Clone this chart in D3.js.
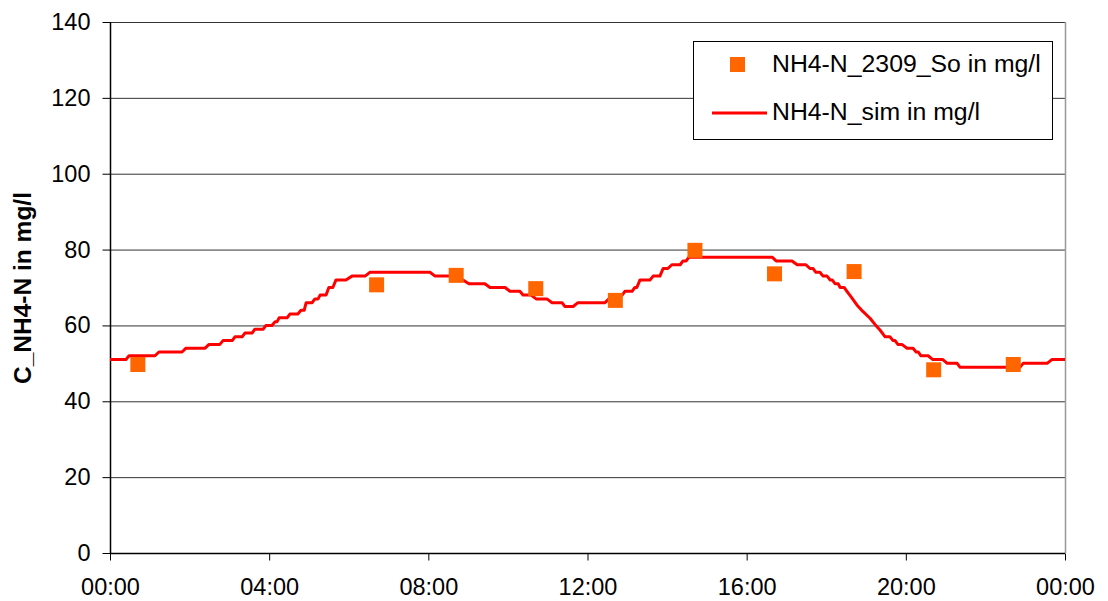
<!DOCTYPE html>
<html>
<head>
<meta charset="utf-8">
<script src="https://cdn.jsdelivr.net/npm/d3@7"></script>
<style>
  html, body { margin: 0; padding: 0; background: #fff; }
  svg { display: block; }
  text { font-family: "Liberation Sans", Arial, sans-serif; fill: #000; }
</style>
</head>
<body>
<svg id="chart" width="1108" height="601"></svg>
<script>
// Measured NH4-N samples (hour of day, mg/l)
const obsHours  = [0.7, 6.7, 8.7, 10.7, 12.7, 14.7, 16.7, 18.7, 20.7, 22.7];
const obsValues = [49.7, 70.7, 73.2, 69.7, 66.6, 79.8, 73.6, 74.2, 48.3, 49.7];

// Simulated NH4-N: each entry is a level held from simFrom to simTo (hours)
const simFrom = [0.00, 0.48, 1.23, 1.91, 2.49, 2.84, 3.14, 3.39, 3.64, 3.92, 4.15, 4.25, 4.52, 4.80, 4.93,
                 5.15, 5.28, 5.50, 5.68, 6.08, 6.53, 8.17, 8.62, 9.02, 9.55, 10.05, 10.38, 10.71, 11.11,
                 11.43, 11.76, 12.54, 12.74, 12.94, 13.19, 13.32, 13.65, 13.90, 14.12, 14.40, 14.55,
                 16.74, 17.27, 17.59, 17.74, 17.92, 18.10, 18.22, 18.35, 18.52, 18.62, 18.77, 18.92,
                 19.10, 19.23, 19.35, 19.48, 19.68, 19.80, 20.03, 20.26, 20.38, 20.68, 21.04, 21.36,
                 22.95, 23.67];
const simTo   = [0.40, 1.13, 1.81, 2.39, 2.76, 3.07, 3.32, 3.57, 3.85, 4.07, 4.20, 4.45, 4.72, 4.88, 5.08,
                 5.23, 5.43, 5.60, 5.93, 6.41, 8.04, 8.54, 8.87, 9.42, 9.93, 10.30, 10.58, 10.98, 11.36,
                 11.64, 12.44, 12.67, 12.87, 13.12, 13.24, 13.57, 13.82, 14.02, 14.33, 14.48, 16.64,
                 17.14, 17.49, 17.67, 17.84, 18.02, 18.15, 18.30, 18.45, 18.52, 18.62, 18.77, 18.92,
                 19.10, 19.23, 19.35, 19.60, 19.73, 19.90, 20.18, 20.31, 20.56, 20.93, 21.29, 22.87,
                 23.55, 24.00];
const simLevel = [51, 52, 53, 54, 55, 56, 57, 58, 59, 60, 61, 62, 63, 64, 66,
                  67, 68, 70, 72, 73, 74, 73, 72, 71, 70, 69, 68, 67, 66,
                  65, 66, 67, 68, 69, 70, 72, 73, 75, 76, 77, 78,
                  77, 76, 75, 74, 73, 72, 71, 70, 69, 67.6, 65.4, 63.7,
                  61.9, 60.2, 58.8, 57, 56, 55, 54, 53, 52, 51, 50, 49,
                  50, 51];

const xTicks = [0, 4, 8, 12, 16, 20, 24];
const yTicks = [0, 20, 40, 60, 80, 100, 120, 140];

const legendLabels = ["NH4-N_2309_So in mg/l", "NH4-N_sim in mg/l"];
const yTitle = "C_NH4-N in mg/l";

const svg = d3.select("#chart");
const plotLeft = 110, plotRight = 1065, plotTop = 22, plotBottom = 553;

const x = d3.scaleLinear().domain([0, 24]).range([plotLeft, plotRight]);
const y = d3.scaleLinear().domain([0, 140]).range([plotBottom, plotTop]);

// horizontal grid lines
svg.append("g")
  .selectAll("line")
  .data(yTicks.filter(d => d > 0))
  .join("line")
  .attr("x1", plotLeft).attr("x2", plotRight)
  .attr("y1", d => y(d) + 0.5).attr("y2", d => y(d) + 0.5)
  .attr("stroke", "#333").attr("stroke-width", 1);

// right frame edge
svg.append("line")
  .attr("x1", plotRight + 0.5).attr("x2", plotRight + 0.5)
  .attr("y1", plotTop).attr("y2", plotBottom)
  .attr("stroke", "#999").attr("stroke-width", 1.5);

// axes
const fmtTime = d => String(d % 24).padStart(2, "0") + ":00";
const xAxis = svg.append("g")
  .attr("transform", `translate(0,${plotBottom + 0.5})`)
  .call(d3.axisBottom(x).tickValues(xTicks).tickFormat(fmtTime).tickSize(7).tickPadding(18));
const yAxis = svg.append("g")
  .attr("transform", `translate(${plotLeft + 0.5},0)`)
  .call(d3.axisLeft(y).tickValues(yTicks).tickSize(8).tickPadding(12));

[xAxis, yAxis].forEach(g => {
  g.select(".domain").attr("stroke", "#000").attr("stroke-width", 1.5);
  g.selectAll(".tick line").attr("stroke", "#000");
  g.selectAll(".tick text")
    .attr("font-family", "'Liberation Sans', Arial, sans-serif")
    .attr("font-size", 23.5).attr("fill", "#000");
});
xAxis.select(".domain").attr("d", `M${plotLeft},0H${plotRight}`);
yAxis.select(".domain").attr("d", `M0,${plotTop}V${plotBottom}`);

// y axis title
svg.append("text")
  .attr("transform", `translate(31,288) rotate(-90)`)
  .attr("text-anchor", "middle")
  .attr("font-size", 24.5).attr("font-weight", "bold")
  .text(yTitle);

// simulated line
const simPoints = simLevel.flatMap((v, i) =>
  simFrom[i] === simTo[i] ? [[simFrom[i], v]] : [[simFrom[i], v], [simTo[i], v]]);
svg.append("path")
  .datum(simPoints)
  .attr("fill", "none")
  .attr("stroke", "#ff0000")
  .attr("stroke-width", 3)
  .attr("stroke-linejoin", "round")
  .attr("d", d3.line().x(d => x(d[0])).y(d => y(d[1])));

// measured points
const m = 15;
svg.append("g")
  .selectAll("rect")
  .data(obsHours.map((h, i) => [h, obsValues[i]]))
  .join("rect")
  .attr("x", d => x(d[0]) - m / 2)
  .attr("y", d => y(d[1]) - m / 2)
  .attr("width", m).attr("height", m)
  .attr("fill", "#ff6600");

// legend
const lg = svg.append("g");
lg.append("rect")
  .attr("x", 693.5).attr("y", 41.5).attr("width", 359).attr("height", 98)
  .attr("fill", "#fff").attr("stroke", "#000").attr("stroke-width", 1);
lg.append("rect")
  .attr("x", 730).attr("y", 57).attr("width", m).attr("height", m)
  .attr("fill", "#ff6600");
lg.append("line")
  .attr("x1", 712).attr("x2", 767).attr("y1", 113).attr("y2", 113)
  .attr("stroke", "#ff0000").attr("stroke-width", 3);
lg.selectAll("text.lab")
  .data(legendLabels)
  .join("text")
  .attr("class", "lab")
  .attr("x", 772)
  .attr("y", (d, i) => 71.5 + i * 48)
  .attr("font-size", 24.8)
  .text(d => d);
</script>
</body>
</html>
